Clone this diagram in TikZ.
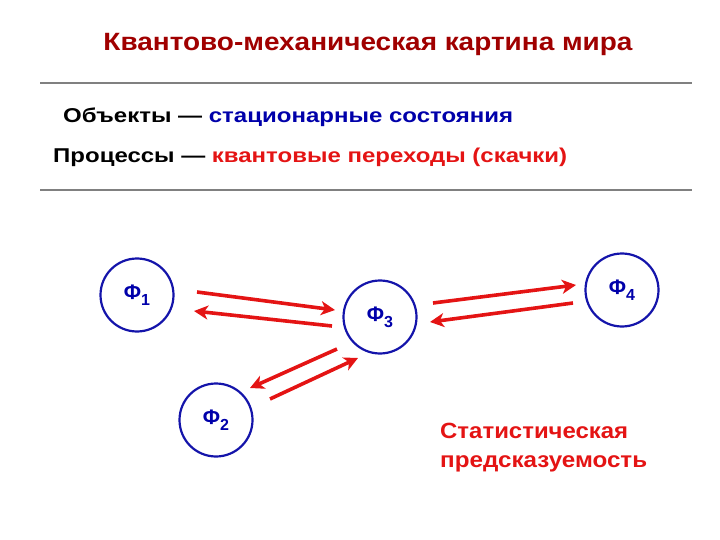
\documentclass[tikz,border=0pt]{standalone}
\usepackage{fontspec}
\usepackage{graphicx}
\setmainfont{Liberation Sans}
\usetikzlibrary{arrows.meta}
\definecolor{titlered}{RGB}{160,0,0}
\definecolor{arrred}{RGB}{228,20,20}
\definecolor{dblue}{RGB}{0,0,170}
\definecolor{cblue}{RGB}{20,20,170}
\definecolor{rulegray}{RGB}{128,128,128}
\newcommand{\phisub}[1]{Φ\raisebox{-0.55ex}{\fontsize{16}{19}\selectfont #1}}
\tikzset{
  state/.style={circle, draw=cblue, line width=2.2pt, minimum size=73pt, inner sep=0pt,
    font=\fontsize{21}{24}\selectfont\bfseries, text=dblue},
  jump/.style={draw=arrred, line width=3.6pt, -{Stealth[length=14pt,width=14pt,inset=4pt]}},
  rulel/.style={draw=rulegray, line width=2.6pt},
  txt/.style={anchor=base west, inner sep=0pt, font=\fontsize{20}{24}\selectfont\bfseries}
}
\begin{document}
\begin{tikzpicture}[x=1pt,y=-1pt]
\useasboundingbox (0,0) rectangle (720,540);
\node[anchor=base, font=\fontsize{25}{30}\selectfont\bfseries, text=titlered, inner sep=0pt] (title) at (368,51) {\resizebox{529pt}{\height}{Квантово-механическая картина мира}};
\coordinate (r1a) at (40,83); \coordinate (r1b) at (692,83);
\coordinate (r2a) at (40,190); \coordinate (r2b) at (692,190);
\draw[rulel] (r1a) -- (r1b);
\draw[rulel] (r2a) -- (r2b);
\node[txt] (obj) at (63,123) {\resizebox{450pt}{\height}{Объекты — \textcolor{dblue}{стационарные состояния}}};
\node[txt] (proc) at (53,163) {\resizebox{514pt}{\height}{Процессы — \textcolor{arrred}{квантовые переходы (скачки)}}};
\node[state] (f1) at (137,295) {\phisub{1}};
\node[state] (f3) at (380,317) {\raisebox{-4pt}{\phisub{3}}};
\node[state] (f4) at (622,290) {\phisub{4}};
\node[state] (f2) at (216,420) {\phisub{2}};
\coordinate (a13s) at (197,292); \coordinate (a13e) at (335,310);
\coordinate (a31s) at (332,326); \coordinate (a31e) at (194,311);
\coordinate (a34s) at (433,303); \coordinate (a34e) at (576,285);
\coordinate (a43s) at (573,303); \coordinate (a43e) at (430,322);
\coordinate (a32s) at (337,349); \coordinate (a32e) at (250,388);
\coordinate (a23s) at (270,399); \coordinate (a23e) at (358,358);
\draw[jump] (a13s) -- (a13e);
\draw[jump] (a31s) -- (a31e);
\draw[jump] (a34s) -- (a34e);
\draw[jump] (a43s) -- (a43e);
\draw[jump] (a32s) -- (a32e);
\draw[jump] (a23s) -- (a23e);
\node[anchor=base west, inner sep=0pt, text=arrred, font=\fontsize{22}{26}\selectfont\bfseries] (stat1) at (440,438) {\resizebox{188pt}{\height}{Статистическая}};
\node[anchor=base west, inner sep=0pt, text=arrred, font=\fontsize{22}{26}\selectfont\bfseries] (stat2) at (440,467) {\resizebox{207pt}{\height}{предсказуемость}};
\end{tikzpicture}
\end{document}
